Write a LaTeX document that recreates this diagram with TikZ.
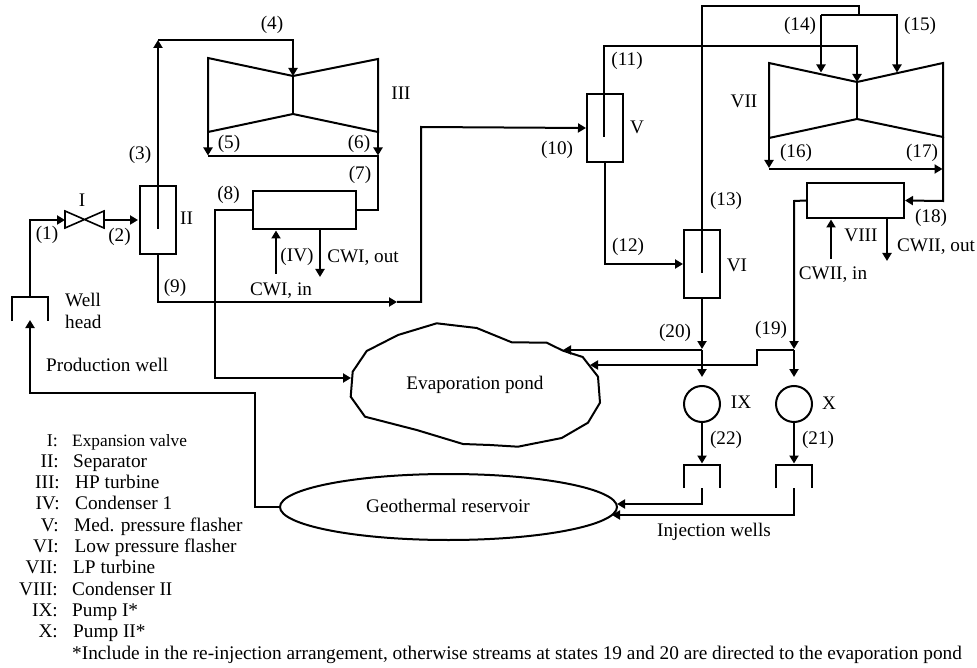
\documentclass[tikz,border=0pt]{standalone}
\usepackage{fontspec}
\setmainfont{Liberation Serif}
\usetikzlibrary{arrows.meta,calc,shapes.geometric}
\tikzset{
  x=1pt,y=-1pt,
  pipe/.style={line width=2pt,line join=miter},
  flow/.style={pipe,-{Triangle[length=8pt,width=9pt]}},
  eqbox/.style={draw,line width=2pt,fill=none,inner sep=0pt,minimum width=#1},
  lab/.style={inner sep=0pt,text height=13pt,text depth=2pt,font=\fontsize{19.2}{21}\selectfont},
  legn/.style={lab,anchor=east,font=\fontsize{19.3}{21}\selectfont},
  legt/.style={lab,anchor=west,font=\fontsize{19.3}{21}\selectfont},
  flash/.style={eqbox=36pt,minimum height=68pt},
  pump/.style={draw,circle,line width=2pt,inner sep=0pt,minimum size=36pt}
}
\begin{document}
\begin{tikzpicture}
\useasboundingbox (0,0) rectangle (977,668);
% equipment
\node[flash] (sepII) at (158,220) {};
\node[flash] (flV) at (605,128) {};
\node[flash] (flVI) at (702,264) {};
\node[eqbox=103pt,minimum height=38pt] (condI) at (304.5,210) {};
\node[eqbox=97pt,minimum height=35pt] (condII) at (855.5,200.5) {};
\node[pump] (pIX) at (702,404) {};
\node[pump] (pX) at (794,404) {};
\node[draw,ellipse,line width=2pt,inner sep=0pt,minimum width=337pt,minimum height=66pt] (geo) at (448.5,507) {};
% valve
\coordinate (vL) at (65,220); \coordinate (vR) at (104,220);
\draw[line width=1.6pt] (65,211) -- (104,228) -- (104,211) -- (65,228) -- cycle;
% turbine III
\coordinate (t3in) at (293,76); \coordinate (t3bot) at (293,114);
\coordinate (t3tl) at (208,58); \coordinate (t3tr) at (378,59);
\coordinate (t3bl) at (208,132); \coordinate (t3br) at (378,132);
\draw[pipe] (t3in) -- (t3tl) -- (t3bl) -- (t3bot) -- (t3br) -- (t3tr) -- cycle;
\draw[pipe] (t3in) -- (t3bot);
% turbine VII
\coordinate (t7in) at (857,82); \coordinate (t7bot) at (857,119);
\coordinate (t7tl) at (769,63); \coordinate (t7tr) at (943,63);
\coordinate (t7bl) at (769,138); \coordinate (t7br) at (943,137);
\draw[pipe] (t7in) -- (t7tl) -- (t7bl) -- (t7bot) -- (t7br) -- (t7tr) -- cycle;
\draw[pipe] (t7in) -- (t7bot);
% pond
\draw[pipe] (352.7,371.7) -- (350.7,396.7) -- (365,416.7) -- (416.7,430) -- (463,444) -- (490,445) -- (518,446.7) -- (561.7,438) -- (588,422.7) -- (600,402.7) -- (598,376.7) -- (582.7,357) -- (563,350.7) -- (546.7,342.7) -- (511.7,342.3) -- (476.7,328) -- (436.7,323.3) -- (398,335) -- (366.7,351) -- cycle;
% wells
\coordinate (wPt) at (30,297);
\draw[pipe] (12,321) -- (12,297) -- (48,297) -- (48,321);
\draw[pipe] (684,488) -- (684,465) -- (720,465) -- (720,488);
\draw[pipe] (776,488) -- (776,465) -- (812,465) -- (812,488);
% connectors left
\coordinate (pInj) at (30,320);
\draw[flow] (wPt) -- (30,220) -- (vL);
\draw[flow] (vR) -- ($(sepII.west)+(-1,0)$);
\draw[flow] (158,229) -- (158,40);
\draw[flow] (158,40) -- (293,40) -- (t3in);
\draw[flow] (t3bl) -- (208,155.5);
\draw[flow] (t3br) -- (378,155.5);
\draw[pipe] (208,156) -- (378,156) -- (378,210) -- (condI.east);
\coordinate (pondW) at (351,378);
\draw[flow] (condI.west) -- (215,210) -- (215,378) -- (pondW);
\coordinate (m9) at (397,302);
\draw[flow] (sepII.south) -- (158,302) -- (m9);
\draw[flow] (m9) -- (421,302) -- (421,127) -- (flV.west);
\draw[flow] (276,274) -- (276,230.5);
\draw[flow] (320,229) -- (320,277);
% connectors right
\draw[flow] (604,137) -- (604,46) -- (857,46) -- (t7in);
\draw[flow] (flV.south) -- (605,264) -- (flVI.west);
\draw[pipe] (702,273) -- (702,6) -- (859,6) -- (859,15);
\draw[flow] (821,15) -- (821,72.5);
\draw[flow] (821,15) -- (897,15) -- (897,72.5);
\draw[flow] (t7bl) -- (769,168);
\draw[flow] (769,169) -- (942.5,169);
\draw[flow] (t7br) -- (943,201) -- (condII.east);
\draw[flow] (condII.west) -- (794,201) -- (794,349);
\draw[flow] (flVI.south) -- (702,349);
\draw[flow] (702,350) -- (702,377);
\draw[flow] (794,350) -- (794,377);
\draw[flow] (702,350) -- (563,350);
\draw[flow] (794,350) -- (757,350) -- (757,365) -- (590,365);
\draw[flow] (pIX.south) -- (702,463.5);
\draw[flow] (pX.south) -- (794,463.5);
\draw[flow] (702,488) -- (702,504) -- (617,504);
\draw[flow] (794,488) -- (794,515) -- (612,515);
\draw[flow] (geo.west) -- (255,507) -- (255,393) -- (30,393) -- (pInj);
\draw[flow] (831,259) -- (831,219.5);
\draw[flow] (887,219) -- (887,261);
% labels
\node[lab] (n1) at (47,234) {(1)};
\node[lab] (n2) at (119.5,236) {(2)};
\node[lab] (nI) at (82,201) {I};
\node[lab] (nII) at (186.5,219) {II};
\node[lab] (n3) at (140,154) {(3)};
\node[lab] (n4) at (272,24) {(4)};
\node[lab] (nIII) at (401,94) {III};
\node[lab] (n5) at (229,143) {(5)};
\node[lab] (n6) at (359,143) {(6)};
\node[lab] (n7) at (360,174) {(7)};
\node[lab] (n8) at (228.5,194) {(8)};
\node[lab] (nIV) at (297,256) {(IV)};
\node[lab] (ncwo) at (363,257) {CWI, out};
\node[lab] (ncwi) at (281,290) {CWI, in};
\node[lab] (n9) at (175,287) {(9)};
\node[lab,anchor=west] (nwell) at (65,301) {Well};
\node[lab,anchor=west] (nhead) at (65,323) {head};
\node[lab,anchor=west] (nprod) at (46,366) {Production well};
\node[lab] (npond) at (475,384) {Evaporation pond};
\node[lab] (ngeo) at (448,507) {Geothermal reservoir};
\node[lab] (n10) at (557,149) {(10)};
\node[lab] (nV) at (637,128) {V};
\node[lab] (n11) at (627,60) {(11)};
\node[lab] (n12) at (628,246.5) {(12)};
\node[lab] (n13) at (726,200) {(13)};
\node[lab] (nVI) at (737,266) {VI};
\node[lab] (n14) at (800,25) {(14)};
\node[lab] (n15) at (920,25) {(15)};
\node[lab] (nVII) at (744,102) {VII};
\node[lab] (n16) at (796,152) {(16)};
\node[lab] (n17) at (922,152) {(17)};
\node[lab] (n18) at (931,217) {(18)};
\node[lab] (nVIII) at (861,236) {VIII};
\node[lab] (ncw2i) at (833,274) {CWII, in};
\node[lab] (ncw2o) at (936,246) {CWII, out};
\node[lab] (n19) at (771,329) {(19)};
\node[lab] (n20) at (675,332) {(20)};
\node[lab] (nIX) at (741,403) {IX};
\node[lab] (nX) at (829,404) {X};
\node[lab] (n22) at (726,439) {(22)};
\node[lab] (n21) at (818,439) {(21)};
\node[lab] (ninj) at (714,531) {Injection wells};
% legend
\node[legn,font=\fontsize{18}{20}\selectfont] (a1) at (58,441) {I:};
\node[legt,font=\fontsize{17.3}{20}\selectfont] (b1) at (72,441) {Expansion valve};
\node[legn] (a2) at (59,461.5) {II:};
\node[legt] (b2) at (73,461.5) {Separator};
\node[legn] (a3) at (60,482.5) {III:};
\node[legt] (b3) at (75,482.5) {HP turbine};
\node[legn] (a4) at (60,504) {IV:};
\node[legt] (b4) at (75,504) {Condenser 1};
\node[legn] (a5) at (59,525.5) {V:};
\node[legt] (b5) at (74,525.5) {Med. pressure flasher};
\node[legn] (a6) at (59,547) {VI:};
\node[legt] (b6) at (74.5,547) {Low pressure flasher};
\node[legn] (a7) at (58,568) {VII:};
\node[legt] (b7) at (73,568) {LP turbine};
\node[legn] (a8) at (58,589.5) {VIII:};
\node[legt] (b8) at (72,589.5) {Condenser II};
\node[legn] (a9) at (58,611) {IX:};
\node[legt] (b9) at (72,611) {Pump I*};
\node[legn] (a10) at (58,632) {X:};
\node[legt] (b10) at (73,632) {Pump II*};
\node[legt] (foot) at (72,654) {*Include in the re-injection arrangement, otherwise streams at states 19 and 20 are directed to the evaporation pond};
\end{tikzpicture}
\end{document}
